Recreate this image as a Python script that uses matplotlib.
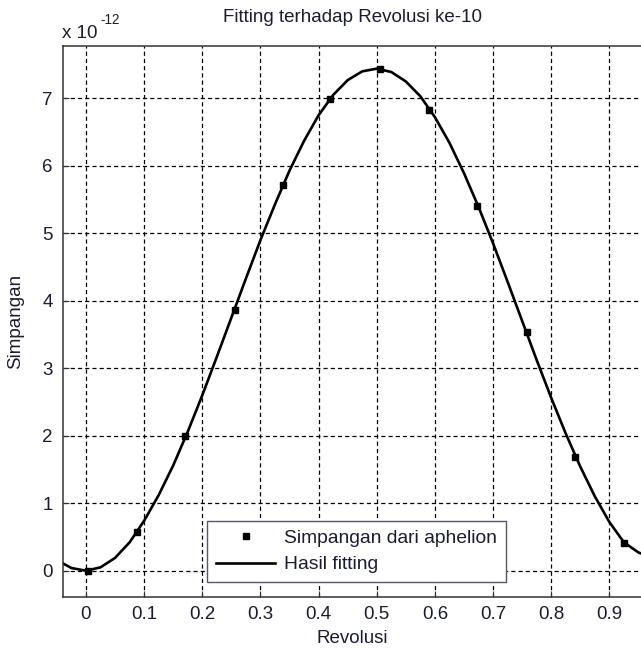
import numpy as np
import matplotlib
matplotlib.use("Agg")
from matplotlib import pyplot as plt
from matplotlib.ticker import FuncFormatter

# satuan sumbu y: 1e-12
skala = 1e-12

# titik simpangan dari aphelion
rev_data = [0.003, 0.088, 0.170, 0.256, 0.339, 0.420, 0.506, 0.590, 0.673, 0.758, 0.841, 0.925]
simp_data = [0.00, 0.57, 1.99, 3.87, 5.71, 6.99, 7.43, 6.82, 5.40, 3.54, 1.69, 0.41]

# kurva hasil fitting
rev_fit = [-0.04, -0.025, 0.0, 0.025, 0.05, 0.075, 0.1, 0.125, 0.15, 0.175,
           0.2, 0.225, 0.25, 0.275, 0.3, 0.325, 0.35, 0.375, 0.4, 0.425,
           0.45, 0.475, 0.5, 0.525, 0.55, 0.575, 0.6, 0.625, 0.65, 0.675,
           0.7, 0.725, 0.75, 0.775, 0.8, 0.825, 0.85, 0.875, 0.9, 0.925,
           0.95, 0.956]
simp_fit = [0.11, 0.04, 0.00, 0.05, 0.19, 0.42, 0.74, 1.12, 1.56, 2.06,
            2.60, 3.17, 3.75, 4.33, 4.90, 5.43, 5.93, 6.37, 6.75, 7.05,
            7.27, 7.40, 7.44, 7.39, 7.25, 7.03, 6.72, 6.34, 5.89, 5.39,
            4.85, 4.28, 3.70, 3.12, 2.56, 2.03, 1.54, 1.10, 0.72, 0.42,
            0.27, 0.25]

xticks = [0, 0.1, 0.2, 0.3, 0.4, 0.5, 0.6, 0.7, 0.8, 0.9]
yticks = [0, 1, 2, 3, 4, 5, 6, 7]

plt.rcParams['font.family'] = ['Liberation Sans', 'DejaVu Sans']
plt.rcParams['lines.scale_dashes'] = False
fs = 13.5
warna_teks = '#1c1c30'

fig = plt.figure(figsize=(6.41, 6.48), dpi=100)
ax = fig.add_axes([62.7 / 641, 51.3 / 648, (642 - 62.7) / 641, 551 / 648])

ax.plot(np.array(rev_data), np.array(simp_data) * skala, 's', color='k',
        markersize=5, label='Simpangan dari aphelion', zorder=3)
ax.plot(np.array(rev_fit), np.array(simp_fit) * skala, '-', color='k',
        linewidth=1.9, label='Hasil fitting', zorder=2)

ax.set_xlim(-0.04, 0.956)
ax.set_ylim(-0.385 * skala, 7.78 * skala)
ax.set_xticks(xticks)
ax.set_yticks([t * skala for t in yticks])
ax.yaxis.set_major_formatter(FuncFormatter(lambda v, p: '%g' % round(v / skala, 6)))
ax.xaxis.set_major_formatter(FuncFormatter(lambda v, p: '%g' % v))

ax.grid(True, color='k', linestyle=(0, (3, 2.2)), linewidth=0.9)
ax.set_axisbelow(True)
ax.tick_params(direction='in', length=4, width=0.8, labelsize=fs,
               labelcolor=warna_teks, color='#333333', pad=7)
for s in ax.spines.values():
    s.set_color('#333333')
    s.set_linewidth(1.1)

ax.set_title('Fitting terhadap Revolusi ke-10', fontsize=fs, color=warna_teks, pad=17)
ax.set_xlabel('Revolusi', fontsize=fs, color=warna_teks, labelpad=5)
ax.set_ylabel('Simpangan', fontsize=fs, color=warna_teks, labelpad=13)

# faktor pengali gaya MATLAB
fig.text(62 / 641, 1 - 38 / 648, 'x 10', fontsize=fs, color=warna_teks, ha='left', va='baseline')
fig.text(100 / 641, 1 - 24 / 648, '-12', fontsize=fs * 0.72, color=warna_teks, ha='left', va='baseline')

leg = ax.legend(loc='lower left', bbox_to_anchor=(0.249, 0.0267), borderaxespad=0,
                fontsize=13.9, handlelength=3.1, handletextpad=0.45, numpoints=1,
                fancybox=False, framealpha=1, edgecolor='#555570', labelspacing=0.45,
                borderpad=0.45, labelcolor=warna_teks)
leg.get_frame().set_linewidth(1.0)

fig.savefig('out.png', dpi=100)
